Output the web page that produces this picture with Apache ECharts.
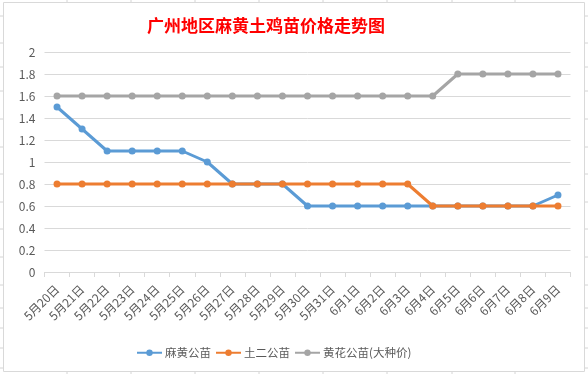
<!DOCTYPE html>
<html><head><meta charset="utf-8">
<script src="https://cdn.jsdelivr.net/npm/echarts@6/dist/echarts.min.js"></script>
<style>html,body{margin:0;padding:0;background:#fff}#c{width:588px;height:374px}</style>
</head><body><div id="c"></div>
<script>
var categories = ['5月20日','5月21日','5月22日','5月23日','5月24日','5月25日','5月26日','5月27日','5月28日','5月29日','5月30日','5月31日','6月1日','6月2日','6月3日','6月4日','6月5日','6月6日','6月7日','6月8日','6月9日'];
var mahuang = [1.5,1.3,1.1,1.1,1.1,1.1,1.0,0.8,0.8,0.8,0.6,0.6,0.6,0.6,0.6,0.6,0.6,0.6,0.6,0.6,0.7];
var tuer = [0.8,0.8,0.8,0.8,0.8,0.8,0.8,0.8,0.8,0.8,0.8,0.8,0.8,0.8,0.8,0.6,0.6,0.6,0.6,0.6,0.6];
var huanghua = [1.6,1.6,1.6,1.6,1.6,1.6,1.6,1.6,1.6,1.6,1.6,1.6,1.6,1.6,1.6,1.6,1.8,1.8,1.8,1.8,1.8];
var seriesNames = ['麻黄公苗','土二公苗','黄花公苗(大种价)'];
var colors = ['#5B9BD5','#ED7D31','#A5A5A5'];

var chart = echarts.init(document.getElementById('c'), null, {renderer:'canvas'});
var marks = [];
var ys = [16,43,67,91,119,147,174,202,229,257,285,308,328,348,368];
ys.forEach(function(y){
  marks.push({type:'line',shape:{x1:0,y1:y,x2:3,y2:y},style:{stroke:'#D4D4D4',lineWidth:1},silent:true});
  marks.push({type:'line',shape:{x1:585,y1:y,x2:588,y2:y},style:{stroke:'#D4D4D4',lineWidth:1},silent:true});
});
[67,131,195,259,323,387,452,515].forEach(function(x){
  marks.push({type:'line',shape:{x1:x,y1:0,x2:x,y2:2},style:{stroke:'#D4D4D4',lineWidth:1},silent:true});
  marks.push({type:'line',shape:{x1:x,y1:372,x2:x,y2:374},style:{stroke:'#D4D4D4',lineWidth:1},silent:true});
});
marks.push({type:'rect',shape:{x:3.5,y:2.5,width:581,height:369},style:{fill:'none',stroke:'#D9D9D9',lineWidth:1},silent:true});

function mk(i, data){
  return {name:seriesNames[i],type:'line',data:data,symbol:'circle',symbolSize:7,
    lineStyle:{width:3,color:colors[i]},itemStyle:{color:colors[i]},animation:false,z:2+i};
}
chart.setOption({
  animation:false,
  title:{text:'广州地区麻黄土鸡苗价格走势图',left:261,top:12,textAlign:'center',
    textStyle:{color:'#FF0000',fontSize:17,fontWeight:'bold',fontFamily:'Noto Sans CJK SC'}},
  graphic:marks,
  grid:{left:44.5,right:17.5,top:52,bottom:102},
  legend:{data:seriesNames,top:342,itemWidth:25,itemHeight:8,itemGap:4,
    textStyle:{color:'#595959',fontSize:11.5,fontFamily:'Noto Sans CJK SC',padding:[0,0,0,-2]},
    left:131},
  xAxis:{type:'category',data:categories,boundaryGap:true,
    axisLine:{lineStyle:{color:'#D9D9D9'}},
    axisTick:{show:true,length:5,lineStyle:{color:'#D9D9D9'}},
    axisLabel:{rotate:45,interval:0,color:'#595959',fontSize:12,fontFamily:'Noto Sans CJK SC',margin:15}},
  yAxis:{type:'value',min:0,max:2,interval:0.2,
    axisLine:{show:false},axisTick:{show:false},
    splitLine:{lineStyle:{color:'#D9D9D9'}},
    axisLabel:{color:'#595959',fontSize:12,fontFamily:'Noto Sans CJK SC',margin:9,
      formatter:function(v){return String(Math.round(v*10)/10);}}},
  series:[mk(0,mahuang),mk(1,tuer),mk(2,huanghua)]
});
</script></body></html>
